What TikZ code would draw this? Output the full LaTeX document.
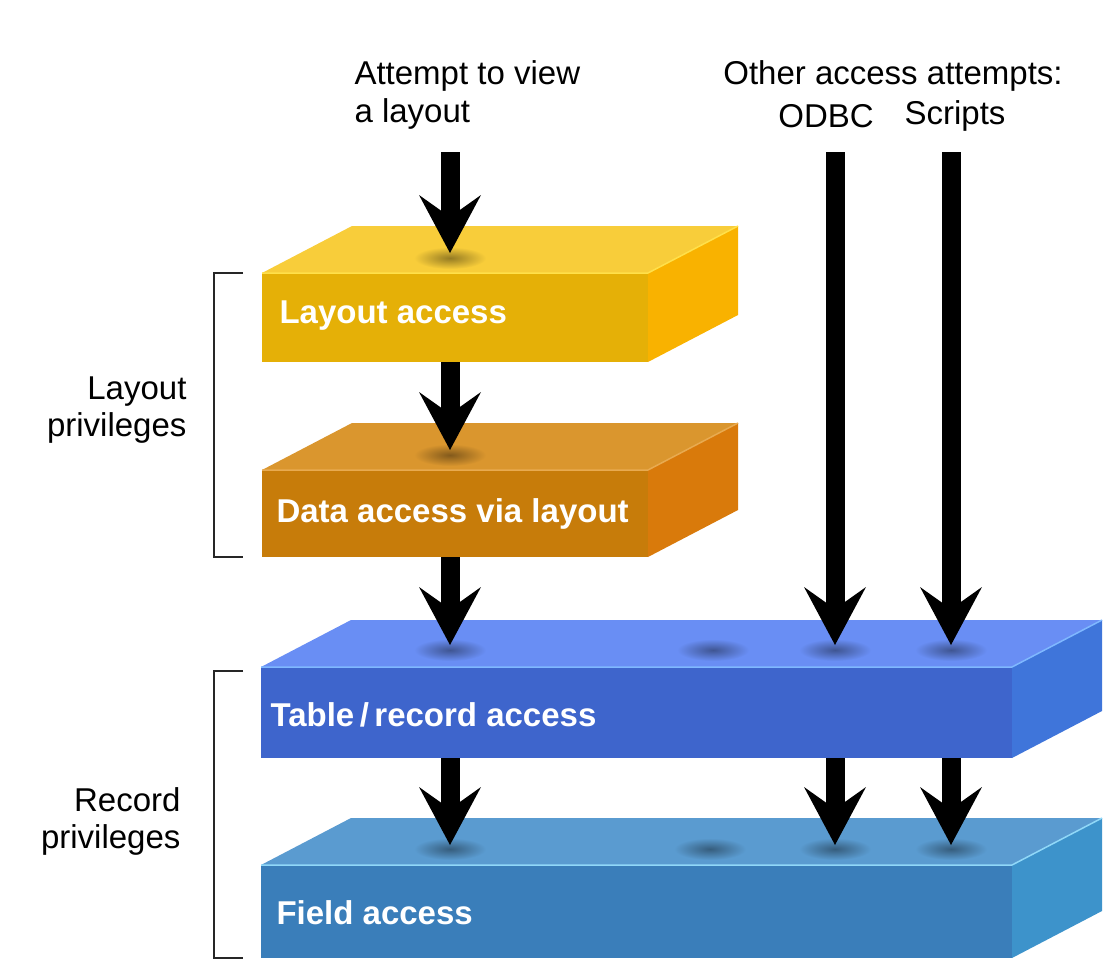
\documentclass[tikz,border=0pt]{standalone}
\usepackage{fontspec}
\setmainfont{Liberation Sans}
\usepackage{tikz}
\usetikzlibrary{arrows.meta, calc}
% slab colours
\definecolor{layfront}{HTML}{E5B007}
\definecolor{laytop}{HTML}{F8CD3A}
\definecolor{layside}{HTML}{F9B200}
\definecolor{layedge}{HTML}{FFE04A}
\definecolor{datfront}{HTML}{C77C0A}
\definecolor{dattop}{HTML}{DA962E}
\definecolor{datside}{HTML}{D97A0B}
\definecolor{datedge}{HTML}{E8AA50}
\definecolor{tabfront}{HTML}{3E65CC}
\definecolor{tabtop}{HTML}{698EF4}
\definecolor{tabside}{HTML}{3F75DA}
\definecolor{tabedge}{HTML}{7FB8FF}
\definecolor{fldfront}{HTML}{3A7EBA}
\definecolor{fldtop}{HTML}{5A9BD0}
\definecolor{fldside}{HTML}{3D93CB}
\definecolor{fldedge}{HTML}{90D8F8}
\tikzset{
  flow/.style={line width=19pt, -{Stealth[length=58pt, width=62pt, inset=22pt, line width=0pt]}},
  boxlabel/.style={anchor=west, text=white, font=\fontsize{33pt}{38pt}\selectfont\bfseries},
  sidelabel/.style={align=right, anchor=east, font=\fontsize{33pt}{37pt}\selectfont},
  toplabel/.style={font=\fontsize{33pt}{38pt}\selectfont},
  bracket/.style={line width=2.5pt, black!85}
}
% 3D slab: #1 colour prefix, #2 x1, #3 y1, #4 x2, #5 y2 (front face)
\newcommand{\slab}[5]{%
  \fill[#1top] (#2,#3) -- (#2+90,#3-47) -- (#4+90,#3-47) -- (#4,#3) -- cycle;
  \fill[#1side] (#4,#3) -- (#4+90,#3-47) -- (#4+90,#5-47) -- (#4,#5) -- cycle;
  \fill[#1front] (#2,#3) rectangle (#4,#5);
  \draw[#1edge, line width=1.5pt] (#2,#3) -- (#4,#3) -- (#4+90,#3-47);
}
\begin{document}
\begin{tikzpicture}[x=1pt, y=-1pt]
  \useasboundingbox (0,0) rectangle (1119,969);
  % slabs
  \slab{lay}{262}{273}{648}{362}
  \slab{dat}{262}{470}{648}{557}
  \slab{tab}{261}{667}{1012}{758}
  \slab{fld}{261}{865}{1012}{958}
  % soft shadow spots on the top faces
  \foreach \x/\y/\c in {450/258/lay, 450/455/dat, 450/650/tab, 713/650/tab, 835/650/tab, 951/650/tab,
                        450/849/fld, 710/849/fld, 835/849/fld, 951/849/fld}
    \shade[inner color=black!40!\c top, outer color=\c top] (\x,\y) ellipse (36pt and 11pt);
  % box texts
  \node[boxlabel] (layout) at (276,316) {Layout access};
  \node[boxlabel] (data) at (273,514) {Data access via layout};
  \node[boxlabel] (table) at (267,715) {Table\,/\,record access};
  \node[boxlabel] (field) at (273,913) {Field access};
  % top labels
  \node[toplabel, align=left, anchor=west] (attempt) at (351,95) {Attempt to view\\a layout};
  \node[toplabel] (other) at (893,76) {Other access attempts:};
  \node[toplabel] (odbclab) at (826,116) {ODBC};
  \node[toplabel] (scrlab) at (955,116) {Scripts};
  % brackets and their labels
  \draw[bracket] (243,273) -- (214,273) -- (214,557) -- (243,557);
  \draw[bracket] (243,671) -- (214,671) -- (214,958) -- (243,958);
  \node[sidelabel] (laypriv) at (190,410) {Layout\\privileges};
  \node[sidelabel] (recpriv) at (184,821) {Record\\privileges};
  % arrow ends
  \coordinate (view) at (450,152);
  \coordinate (odbc) at (835,152);
  \coordinate (scr) at (951,152);
  \coordinate (lay-in) at (450,253);
  \coordinate (lay-out) at (450,362);
  \coordinate (dat-in) at (450,450);
  \coordinate (dat-out) at (450,557);
  \coordinate (tab-in) at (450,645);
  \coordinate (tab-odbc) at (835,645);
  \coordinate (tab-scr) at (951,645);
  \coordinate (tab-out) at (450,758);
  \coordinate (tab-odbc-out) at (835,758);
  \coordinate (tab-scr-out) at (951,758);
  \coordinate (fld-in) at (450,845);
  \coordinate (fld-odbc) at (835,845);
  \coordinate (fld-scr) at (951,845);
  % arrows
  \draw[flow] (view) -- (lay-in);
  \draw[flow] (lay-out) -- (dat-in);
  \draw[flow] (dat-out) -- (tab-in);
  \draw[flow] (odbc) -- (tab-odbc);
  \draw[flow] (scr) -- (tab-scr);
  \draw[flow] (tab-out) -- (fld-in);
  \draw[flow] (tab-odbc-out) -- (fld-odbc);
  \draw[flow] (tab-scr-out) -- (fld-scr);
\end{tikzpicture}
\end{document}
